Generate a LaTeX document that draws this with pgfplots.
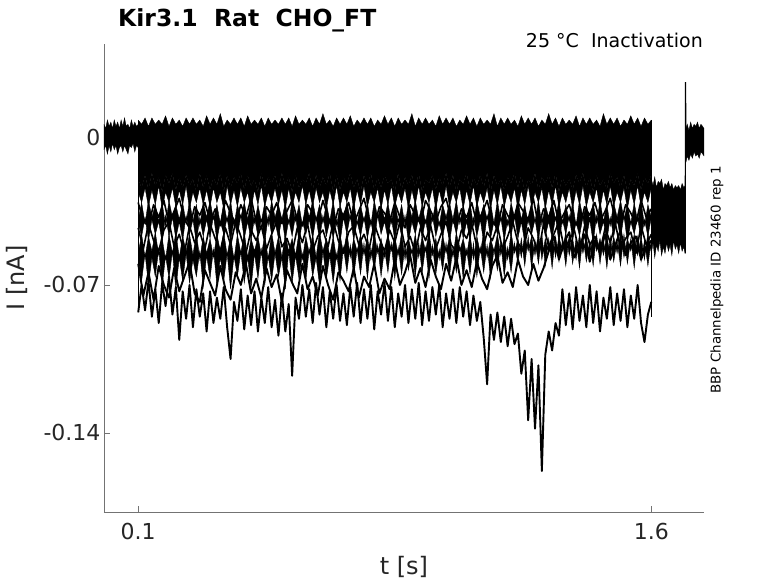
\documentclass[border=0pt]{standalone}
\usepackage{fontspec}
\setmainfont{DejaVu Sans}
\usepackage{pgfplots}
\usepackage{pgfplotstable}
\pgfplotsset{compat=1.18}
\usepgfplotslibrary{fillbetween}

\pgfplotstableread{
t top bot a b c d e f
0.10 0.008 -0.020 -0.026 -0.039 -0.041 -0.055 -0.058 -0.083
0.11 0.006 -0.024 -0.031 -0.031 -0.047 -0.046 -0.068 -0.070
0.12 0.009 -0.018 -0.024 -0.041 -0.038 -0.057 -0.055 -0.082
0.13 0.005 -0.025 -0.033 -0.030 -0.049 -0.047 -0.070 -0.068
0.14 0.009 -0.017 -0.025 -0.038 -0.039 -0.054 -0.057 -0.085
0.15 0.006 -0.023 -0.032 -0.032 -0.046 -0.045 -0.066 -0.072
0.16 0.008 -0.019 -0.023 -0.040 -0.040 -0.056 -0.053 -0.088
0.17 0.006 -0.026 -0.034 -0.031 -0.050 -0.048 -0.071 -0.069
0.18 0.010 -0.018 -0.026 -0.042 -0.037 -0.058 -0.056 -0.080
0.19 0.005 -0.022 -0.031 -0.030 -0.047 -0.046 -0.067 -0.066
0.20 0.009 -0.017 -0.024 -0.038 -0.038 -0.055 -0.054 -0.084
0.21 0.006 -0.025 -0.033 -0.032 -0.048 -0.045 -0.072 -0.071
0.22 0.008 -0.019 -0.025 -0.039 -0.040 -0.057 -0.057 -0.096
0.23 0.005 -0.024 -0.032 -0.031 -0.049 -0.047 -0.068 -0.073
0.24 0.009 -0.018 -0.023 -0.041 -0.037 -0.054 -0.055 -0.086
0.25 0.006 -0.023 -0.034 -0.030 -0.046 -0.046 -0.069 -0.070
0.26 0.009 -0.020 -0.026 -0.040 -0.039 -0.056 -0.058 -0.090
0.27 0.006 -0.026 -0.031 -0.032 -0.050 -0.045 -0.066 -0.072
0.28 0.008 -0.017 -0.024 -0.042 -0.038 -0.058 -0.054 -0.085
0.29 0.005 -0.024 -0.032 -0.031 -0.047 -0.047 -0.071 -0.074
0.30 0.010 -0.018 -0.025 -0.038 -0.039 -0.055 -0.056 -0.092
0.31 0.006 -0.025 -0.033 -0.030 -0.048 -0.048 -0.067 -0.073
0.32 0.009 -0.019 -0.024 -0.039 -0.037 -0.057 -0.053 -0.088
0.33 0.006 -0.023 -0.031 -0.032 -0.049 -0.046 -0.070 -0.076
0.34 0.011 -0.017 -0.026 -0.041 -0.040 -0.054 -0.057 -0.086
0.35 0.005 -0.026 -0.034 -0.031 -0.046 -0.045 -0.068 -0.071
0.36 0.008 -0.018 -0.023 -0.040 -0.038 -0.056 -0.055 -0.090
0.37 0.006 -0.024 -0.032 -0.030 -0.050 -0.047 -0.072 -0.105
0.38 0.009 -0.019 -0.025 -0.042 -0.039 -0.058 -0.056 -0.078
0.39 0.006 -0.022 -0.033 -0.032 -0.047 -0.046 -0.066 -0.087
0.40 0.009 -0.017 -0.024 -0.038 -0.037 -0.055 -0.054 -0.072
0.41 0.005 -0.025 -0.031 -0.031 -0.048 -0.045 -0.069 -0.091
0.42 0.010 -0.018 -0.026 -0.039 -0.040 -0.057 -0.057 -0.075
0.43 0.006 -0.023 -0.034 -0.030 -0.049 -0.048 -0.071 -0.089
0.44 0.008 -0.020 -0.025 -0.041 -0.038 -0.054 -0.055 -0.073
0.45 0.006 -0.026 -0.032 -0.032 -0.047 -0.047 -0.067 -0.092
0.46 0.009 -0.017 -0.023 -0.040 -0.039 -0.056 -0.053 -0.076
0.47 0.005 -0.024 -0.033 -0.031 -0.050 -0.046 -0.070 -0.088
0.48 0.009 -0.019 -0.026 -0.042 -0.037 -0.058 -0.056 -0.071
0.49 0.006 -0.022 -0.031 -0.030 -0.046 -0.045 -0.068 -0.090
0.50 0.008 -0.018 -0.024 -0.038 -0.040 -0.055 -0.055 -0.077
0.51 0.006 -0.025 -0.032 -0.032 -0.048 -0.047 -0.066 -0.094
0.52 0.009 -0.017 -0.025 -0.039 -0.038 -0.057 -0.057 -0.074
0.53 0.006 -0.023 -0.034 -0.031 -0.049 -0.046 -0.072 -0.092
0.54 0.009 -0.019 -0.024 -0.041 -0.039 -0.054 -0.054 -0.079
0.55 0.005 -0.026 -0.033 -0.030 -0.047 -0.048 -0.069 -0.113
0.56 0.010 -0.018 -0.026 -0.040 -0.037 -0.056 -0.056 -0.076
0.57 0.006 -0.024 -0.031 -0.032 -0.050 -0.045 -0.067 -0.086
0.58 0.008 -0.020 -0.023 -0.042 -0.040 -0.058 -0.055 -0.070
0.59 0.006 -0.022 -0.032 -0.031 -0.046 -0.047 -0.068 -0.085
0.60 0.009 -0.017 -0.025 -0.038 -0.039 -0.055 -0.053 -0.072
0.61 0.005 -0.025 -0.033 -0.030 -0.048 -0.046 -0.066 -0.088
0.62 0.009 -0.018 -0.024 -0.039 -0.038 -0.057 -0.057 -0.069
0.63 0.006 -0.024 -0.031 -0.032 -0.049 -0.045 -0.070 -0.084
0.64 0.011 -0.019 -0.026 -0.041 -0.037 -0.054 -0.054 -0.071
0.65 0.006 -0.023 -0.034 -0.031 -0.047 -0.048 -0.067 -0.090
0.66 0.008 -0.017 -0.025 -0.040 -0.040 -0.056 -0.056 -0.073
0.67 0.005 -0.026 -0.032 -0.030 -0.048 -0.047 -0.069 -0.086
0.68 0.009 -0.018 -0.023 -0.042 -0.039 -0.058 -0.055 -0.070
0.69 0.006 -0.025 -0.033 -0.032 -0.050 -0.046 -0.068 -0.087
0.70 0.009 -0.019 -0.026 -0.038 -0.038 -0.055 -0.052 -0.074
0.71 0.006 -0.022 -0.031 -0.031 -0.046 -0.045 -0.064 -0.089
0.72 0.010 -0.017 -0.024 -0.039 -0.037 -0.057 -0.051 -0.071
0.73 0.005 -0.024 -0.034 -0.030 -0.049 -0.048 -0.066 -0.085
0.74 0.008 -0.020 -0.025 -0.041 -0.040 -0.054 -0.053 -0.069
0.75 0.006 -0.026 -0.032 -0.032 -0.047 -0.046 -0.065 -0.088
0.76 0.009 -0.018 -0.023 -0.040 -0.038 -0.056 -0.050 -0.072
0.77 0.006 -0.023 -0.033 -0.031 -0.048 -0.047 -0.067 -0.086
0.78 0.009 -0.017 -0.026 -0.042 -0.039 -0.058 -0.052 -0.070
0.79 0.005 -0.025 -0.031 -0.030 -0.050 -0.045 -0.063 -0.091
0.80 0.008 -0.019 -0.024 -0.038 -0.037 -0.055 -0.051 -0.073
0.81 0.006 -0.024 -0.034 -0.032 -0.046 -0.048 -0.066 -0.084
0.82 0.010 -0.018 -0.025 -0.039 -0.040 -0.057 -0.053 -0.069
0.83 0.006 -0.022 -0.032 -0.031 -0.048 -0.046 -0.064 -0.087
0.84 0.009 -0.020 -0.023 -0.041 -0.038 -0.054 -0.050 -0.071
0.85 0.005 -0.026 -0.033 -0.030 -0.049 -0.047 -0.067 -0.090
0.86 0.009 -0.017 -0.026 -0.040 -0.039 -0.056 -0.052 -0.074
0.87 0.006 -0.025 -0.031 -0.032 -0.047 -0.045 -0.065 -0.085
0.88 0.008 -0.019 -0.024 -0.042 -0.037 -0.058 -0.051 -0.070
0.89 0.006 -0.023 -0.034 -0.031 -0.050 -0.048 -0.063 -0.088
0.90 0.011 -0.018 -0.025 -0.038 -0.040 -0.055 -0.053 -0.072
0.91 0.005 -0.024 -0.032 -0.030 -0.046 -0.046 -0.066 -0.086
0.92 0.009 -0.017 -0.023 -0.039 -0.038 -0.057 -0.050 -0.069
0.93 0.006 -0.026 -0.033 -0.032 -0.048 -0.047 -0.064 -0.089
0.94 0.009 -0.020 -0.026 -0.041 -0.039 -0.054 -0.052 -0.073
0.95 0.006 -0.022 -0.031 -0.031 -0.049 -0.045 -0.067 -0.087
0.96 0.008 -0.018 -0.024 -0.040 -0.037 -0.056 -0.051 -0.071
0.97 0.005 -0.025 -0.034 -0.030 -0.047 -0.048 -0.065 -0.084
0.98 0.010 -0.019 -0.025 -0.042 -0.040 -0.058 -0.053 -0.070
0.99 0.006 -0.023 -0.032 -0.032 -0.048 -0.046 -0.063 -0.090
1.00 0.009 -0.017 -0.023 -0.038 -0.038 -0.055 -0.050 -0.074
1.01 0.006 -0.024 -0.033 -0.031 -0.050 -0.047 -0.066 -0.086
1.02 0.009 -0.018 -0.026 -0.039 -0.039 -0.057 -0.052 -0.072
1.03 0.005 -0.026 -0.031 -0.030 -0.046 -0.045 -0.064 -0.088
1.04 0.008 -0.020 -0.024 -0.041 -0.037 -0.054 -0.051 -0.071
1.05 0.006 -0.022 -0.034 -0.032 -0.048 -0.048 -0.067 -0.085
1.06 0.010 -0.017 -0.025 -0.040 -0.040 -0.056 -0.053 -0.073
1.07 0.006 -0.025 -0.032 -0.031 -0.049 -0.046 -0.065 -0.089
1.08 0.009 -0.019 -0.023 -0.042 -0.038 -0.058 -0.050 -0.075
1.09 0.005 -0.023 -0.033 -0.030 -0.047 -0.047 -0.066 -0.087
1.10 0.009 -0.018 -0.026 -0.038 -0.039 -0.055 -0.052 -0.078
1.11 0.006 -0.024 -0.031 -0.032 -0.050 -0.045 -0.064 -0.095
1.12 0.008 -0.017 -0.024 -0.039 -0.037 -0.057 -0.051 -0.117
1.13 0.006 -0.026 -0.034 -0.031 -0.048 -0.048 -0.067 -0.084
1.14 0.011 -0.018 -0.025 -0.041 -0.040 -0.054 -0.053 -0.096
1.15 0.005 -0.023 -0.032 -0.030 -0.046 -0.046 -0.063 -0.083
1.16 0.009 -0.020 -0.023 -0.040 -0.038 -0.056 -0.050 -0.097
1.17 0.006 -0.025 -0.033 -0.032 -0.049 -0.047 -0.066 -0.085
1.18 0.009 -0.019 -0.026 -0.042 -0.039 -0.058 -0.052 -0.099
1.19 0.006 -0.022 -0.031 -0.031 -0.047 -0.045 -0.064 -0.086
1.20 0.008 -0.017 -0.024 -0.038 -0.037 -0.055 -0.050 -0.098
1.21 0.005 -0.024 -0.034 -0.030 -0.048 -0.048 -0.060 -0.093
1.22 0.010 -0.018 -0.025 -0.039 -0.040 -0.057 -0.048 -0.112
1.23 0.006 -0.026 -0.032 -0.032 -0.050 -0.046 -0.061 -0.101
1.24 0.009 -0.020 -0.023 -0.041 -0.038 -0.054 -0.047 -0.134
1.25 0.006 -0.023 -0.033 -0.031 -0.046 -0.047 -0.062 -0.105
1.26 0.009 -0.017 -0.026 -0.040 -0.039 -0.056 -0.049 -0.138
1.27 0.005 -0.025 -0.031 -0.030 -0.049 -0.045 -0.060 -0.108
1.28 0.008 -0.019 -0.024 -0.042 -0.037 -0.058 -0.046 -0.158
1.29 0.006 -0.022 -0.034 -0.032 -0.047 -0.048 -0.061 -0.103
1.30 0.011 -0.018 -0.025 -0.038 -0.040 -0.055 -0.048 -0.092
1.31 0.006 -0.024 -0.032 -0.031 -0.048 -0.046 -0.062 -0.101
1.32 0.009 -0.017 -0.023 -0.039 -0.038 -0.057 -0.047 -0.088
1.33 0.005 -0.026 -0.033 -0.030 -0.050 -0.047 -0.059 -0.094
1.34 0.009 -0.019 -0.026 -0.041 -0.039 -0.054 -0.049 -0.072
1.35 0.006 -0.023 -0.031 -0.032 -0.046 -0.045 -0.061 -0.089
1.36 0.008 -0.020 -0.024 -0.040 -0.037 -0.056 -0.046 -0.074
1.37 0.006 -0.025 -0.034 -0.031 -0.049 -0.048 -0.060 -0.091
1.38 0.010 -0.018 -0.025 -0.042 -0.040 -0.058 -0.048 -0.071
1.39 0.005 -0.022 -0.032 -0.030 -0.047 -0.046 -0.062 -0.087
1.40 0.009 -0.017 -0.023 -0.038 -0.038 -0.055 -0.047 -0.075
1.41 0.006 -0.024 -0.033 -0.032 -0.048 -0.047 -0.059 -0.090
1.42 0.009 -0.019 -0.026 -0.039 -0.039 -0.057 -0.049 -0.070
1.43 0.006 -0.026 -0.031 -0.031 -0.050 -0.045 -0.061 -0.088
1.44 0.008 -0.018 -0.024 -0.041 -0.037 -0.054 -0.046 -0.073
1.45 0.005 -0.023 -0.034 -0.030 -0.046 -0.048 -0.060 -0.092
1.46 0.011 -0.020 -0.025 -0.040 -0.040 -0.056 -0.048 -0.076
1.47 0.006 -0.025 -0.032 -0.032 -0.049 -0.046 -0.062 -0.086
1.48 0.009 -0.017 -0.023 -0.042 -0.038 -0.058 -0.047 -0.071
1.49 0.006 -0.022 -0.033 -0.031 -0.047 -0.047 -0.059 -0.089
1.50 0.009 -0.019 -0.026 -0.038 -0.039 -0.055 -0.049 -0.074
1.51 0.005 -0.024 -0.031 -0.030 -0.048 -0.045 -0.061 -0.087
1.52 0.008 -0.018 -0.024 -0.039 -0.037 -0.057 -0.046 -0.072
1.53 0.006 -0.026 -0.034 -0.032 -0.050 -0.048 -0.060 -0.090
1.54 0.010 -0.020 -0.025 -0.041 -0.040 -0.054 -0.048 -0.075
1.55 0.006 -0.023 -0.032 -0.031 -0.046 -0.046 -0.062 -0.086
1.56 0.009 -0.017 -0.023 -0.040 -0.038 -0.056 -0.047 -0.070
1.57 0.005 -0.025 -0.033 -0.030 -0.049 -0.047 -0.059 -0.088
1.58 0.009 -0.019 -0.026 -0.042 -0.039 -0.058 -0.049 -0.097
1.59 0.006 -0.022 -0.031 -0.032 -0.047 -0.045 -0.061 -0.084
1.60 0.008 -0.018 -0.024 -0.038 -0.038 -0.055 -0.048 -0.078
}\pulse

\pgfplotstableread{
t g h k
0.100 -0.031 -0.043 -0.060
0.115 -0.040 -0.053 -0.075
0.130 -0.042 -0.041 -0.064
0.145 -0.032 -0.049 -0.077
0.160 -0.038 -0.054 -0.061
0.175 -0.030 -0.044 -0.070
0.190 -0.041 -0.040 -0.076
0.205 -0.035 -0.052 -0.062
0.220 -0.029 -0.046 -0.073
0.235 -0.039 -0.055 -0.066
0.250 -0.043 -0.042 -0.059
0.265 -0.033 -0.050 -0.074
0.280 -0.037 -0.045 -0.078
0.295 -0.031 -0.053 -0.063
0.310 -0.040 -0.041 -0.069
0.325 -0.034 -0.048 -0.075
0.340 -0.042 -0.054 -0.061
0.355 -0.030 -0.043 -0.072
0.370 -0.036 -0.051 -0.077
0.385 -0.041 -0.040 -0.064
0.400 -0.032 -0.047 -0.070
0.415 -0.038 -0.055 -0.060
0.430 -0.029 -0.044 -0.074
0.445 -0.040 -0.049 -0.067
0.460 -0.043 -0.042 -0.076
0.475 -0.033 -0.053 -0.062
0.490 -0.037 -0.046 -0.071
0.505 -0.031 -0.040 -0.065
0.520 -0.041 -0.052 -0.078
0.535 -0.035 -0.048 -0.063
0.550 -0.030 -0.055 -0.069
0.565 -0.039 -0.043 -0.074
0.580 -0.042 -0.050 -0.060
0.595 -0.032 -0.041 -0.072
0.610 -0.036 -0.054 -0.066
0.625 -0.040 -0.047 -0.075
0.640 -0.030 -0.044 -0.061
0.655 -0.038 -0.052 -0.070
0.670 -0.043 -0.040 -0.077
0.685 -0.034 -0.049 -0.064
0.700 -0.037 -0.055 -0.068
0.715 -0.031 -0.045 -0.073
0.730 -0.041 -0.042 -0.062
0.745 -0.035 -0.051 -0.076
0.760 -0.029 -0.046 -0.066
0.775 -0.039 -0.053 -0.071
0.790 -0.042 -0.041 -0.060
0.805 -0.033 -0.048 -0.074
0.820 -0.036 -0.054 -0.067
0.835 -0.040 -0.044 -0.072
0.850 -0.031 -0.050 -0.058
0.865 -0.038 -0.040 -0.070
0.880 -0.043 -0.052 -0.064
0.895 -0.032 -0.047 -0.056
0.910 -0.037 -0.055 -0.069
0.925 -0.041 -0.043 -0.062
0.940 -0.030 -0.049 -0.071
0.955 -0.035 -0.042 -0.058
0.970 -0.040 -0.053 -0.066
0.985 -0.033 -0.046 -0.072
1.000 -0.029 -0.040 -0.060
1.015 -0.039 -0.051 -0.068
1.030 -0.042 -0.054 -0.057
1.045 -0.034 -0.044 -0.070
1.060 -0.038 -0.048 -0.063
1.075 -0.031 -0.041 -0.071
1.090 -0.041 -0.052 -0.059
1.105 -0.036 -0.055 -0.067
1.120 -0.030 -0.045 -0.072
1.135 -0.040 -0.049 -0.061
1.150 -0.043 -0.042 -0.056
1.165 -0.032 -0.053 -0.069
1.180 -0.037 -0.047 -0.064
1.195 -0.041 -0.040 -0.071
1.210 -0.031 -0.050 -0.058
1.225 -0.035 -0.054 -0.066
1.240 -0.039 -0.043 -0.070
1.255 -0.029 -0.048 -0.060
1.270 -0.042 -0.055 -0.068
1.285 -0.034 -0.041 -0.062
1.300 -0.038 -0.052 -0.054
1.315 -0.030 -0.046 -0.047
1.330 -0.041 -0.040 -0.058
1.345 -0.036 -0.053 -0.050
1.360 -0.032 -0.049 -0.045
1.375 -0.040 -0.044 -0.057
1.390 -0.043 -0.055 -0.052
1.405 -0.033 -0.042 -0.046
1.420 -0.037 -0.051 -0.059
1.435 -0.031 -0.047 -0.049
1.450 -0.040 -0.054 -0.055
1.465 -0.035 -0.043 -0.046
1.480 -0.029 -0.050 -0.058
1.495 -0.039 -0.041 -0.051
1.510 -0.042 -0.053 -0.044
1.525 -0.032 -0.048 -0.056
1.540 -0.036 -0.045 -0.050
1.555 -0.041 -0.055 -0.047
1.570 -0.030 -0.042 -0.058
1.585 -0.038 -0.051 -0.052
1.600 -0.034 -0.046 -0.049
}\pulsetwo

\pgfplotstableread{
t top bot
0.000 0.006 -0.006
0.005 0.004 -0.004
0.010 0.008 -0.008
0.015 0.005 -0.004
0.020 0.007 -0.007
0.025 0.004 -0.003
0.030 0.008 -0.006
0.035 0.005 -0.004
0.040 0.007 -0.008
0.045 0.004 -0.005
0.050 0.008 -0.004
0.055 0.005 -0.007
0.060 0.009 -0.004
0.065 0.005 -0.006
0.070 0.006 -0.008
0.075 0.004 -0.004
0.080 0.008 -0.005
0.085 0.005 -0.003
0.090 0.007 -0.007
0.095 0.005 -0.004
0.100 0.006 -0.005
}\pre

\pgfplotstableread{
t top bot
1.600 -0.020 -0.055
1.605 -0.023 -0.050
1.610 -0.019 -0.057
1.615 -0.024 -0.051
1.620 -0.021 -0.054
1.625 -0.022 -0.049
1.630 -0.020 -0.056
1.635 -0.025 -0.052
1.640 -0.022 -0.055
1.645 -0.023 -0.050
1.650 -0.021 -0.054
1.655 -0.024 -0.051
1.660 -0.022 -0.056
1.665 -0.025 -0.049
1.670 -0.023 -0.053
1.675 -0.024 -0.051
1.680 -0.023 -0.055
1.685 -0.025 -0.050
1.690 -0.022 -0.054
1.695 -0.024 -0.052
1.699 -0.023 -0.055
}\tail

\pgfplotstableread{
t top bot
1.701 0.004 -0.012
1.705 0.006 -0.009
1.710 0.003 -0.011
1.715 0.007 -0.008
1.720 0.004 -0.010
1.725 0.006 -0.007
1.730 0.005 -0.009
1.735 0.007 -0.008
1.740 0.004 -0.010
1.745 0.006 -0.007
1.750 0.005 -0.008
1.754 0.004 -0.009
}\post

\definecolor{txt}{gray}{0.15}
\definecolor{axc}{gray}{0.45}

\begin{document}
\begin{tikzpicture}
\begin{axis}[
  scale only axis, width=600pt, height=468pt,
  xmin=0, xmax=1.754, ymin=-0.1774, ymax=0.044,
  axis x line*=bottom, axis y line*=left,
  axis line style={axc, line width=0.7pt},
  xtick={0.1,1.6}, xticklabels={0.1,1.6},
  ytick={-0.14,-0.07,0}, yticklabels={-0.14,-0.07,0},
  tick align=inside, major tick length=6pt,
  tick style={axc, line width=0.7pt},
  ticklabel style={font=\fontsize{22}{26}\selectfont, text=txt},
  xticklabel style={yshift=-8pt},
  xlabel={t [s]}, ylabel={I [nA]},
  label style={font=\fontsize{24}{28}\selectfont, text=txt},
  xlabel style={at={(axis description cs:0.5,-0.1175)}, anchor=center},
  ylabel style={at={(axis description cs:-0.145,0.5)}, anchor=center},
  cycle list={{black, line width=1.5pt, line join=round}},
  no markers,
]
\coordinate (bl) at (rel axis cs:0,0);
\coordinate (tr) at (rel axis cs:1,1);
\coordinate (tl) at (rel axis cs:0,1);
\coordinate (mr) at (rel axis cs:1,0.496);
% pre-pulse band
\addplot[name path=preT] table[x=t,y=top] {\pre};
\addplot[name path=preB] table[x=t,y=bot] {\pre};
\addplot[black] fill between[of=preT and preB];
% pulse band
\addplot[name path=pT] table[x=t,y=top] {\pulse};
\addplot[name path=pB] table[x=t,y=bot] {\pulse};
\addplot[name path=pA] table[x=t,y=a] {\pulse};
\addplot[black] fill between[of=pT and pB];
\addplot[black] fill between[of=pB and pA];
\addplot[name path=pBb] table[x=t,y=b] {\pulse};
\addplot[name path=pC] table[x=t,y=c] {\pulse};
\addplot[name path=pD] table[x=t,y=d] {\pulse};
\addplot[name path=pE] table[x=t,y=e] {\pulse};
\addplot[black] fill between[of=pBb and pC];
\addplot[black] fill between[of=pD and pE];
\addplot[black, line width=1.9pt, line join=round] table[x=t,y=f] {\pulse};
\addplot[black, line width=1.6pt, line join=round] table[x=t,y=g] {\pulsetwo};
\addplot[black, line width=1.6pt, line join=round] table[x=t,y=h] {\pulsetwo};
\addplot[black, line width=1.9pt, line join=round] table[x=t,y=k] {\pulsetwo};
% step edges
\addplot[black, line width=1.2pt] coordinates {(0.1,0.006) (0.1,-0.083)};
\addplot[black, line width=1.2pt] coordinates {(1.6,0.008) (1.6,-0.085)};
% tail band
\addplot[name path=tT] table[x=t,y=top] {\tail};
\addplot[name path=tB] table[x=t,y=bot] {\tail};
\addplot[black] fill between[of=tT and tB];
% spike
\addplot[black, line width=1.2pt] coordinates {(1.699,-0.055) (1.700,0.026) (1.701,-0.004)};
% post band
\addplot[name path=qT] table[x=t,y=top] {\post};
\addplot[name path=qB] table[x=t,y=bot] {\post};
\addplot[black] fill between[of=qT and qB];
\end{axis}
\node[anchor=base west, font=\fontsize{23.5}{28}\selectfont\bfseries, text=black, inner sep=0pt]
  at ([xshift=14pt,yshift=17pt]tl) {Kir3.1\ \ Rat\ \ CHO\_FT};
\node[anchor=base east, font=\fontsize{19}{22}\selectfont, text=black, inner sep=0pt]
  at ([xshift=-1pt,yshift=-4pt]tr) {25 °C\ \ Inactivation};
\node[rotate=90, anchor=center, font=\fontsize{13.4}{16}\selectfont, text=black, inner sep=0pt]
  at ([xshift=13pt]mr) {BBP Channelpedia ID 23460 rep 1};
\pgfresetboundingbox
\path[use as bounding box] ([xshift=-104pt,yshift=-71pt]bl) rectangle ([xshift=74pt,yshift=44pt]tr);
\end{tikzpicture}
\end{document}
